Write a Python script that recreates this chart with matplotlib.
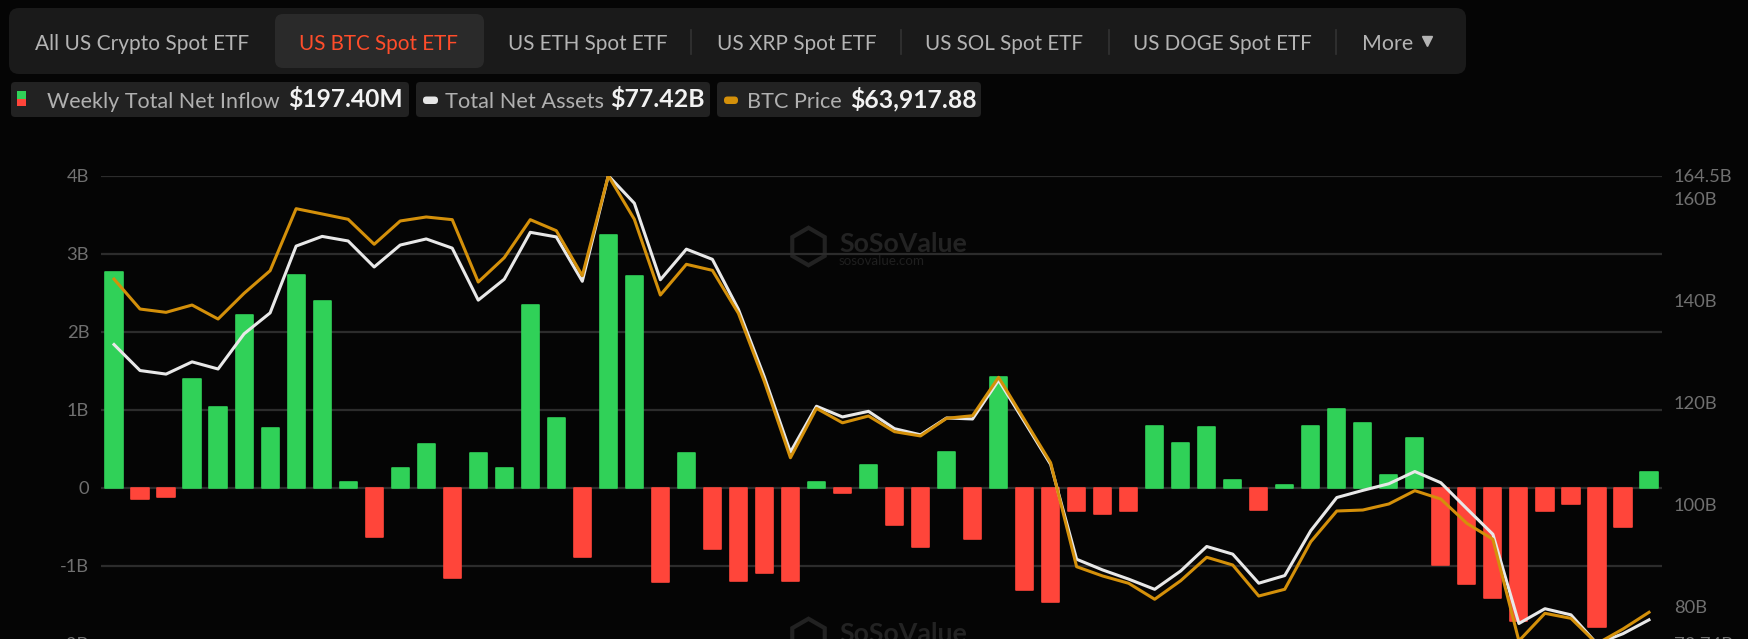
import matplotlib
matplotlib.use("Agg")
import matplotlib.pyplot as plt
import numpy as np
from matplotlib.patches import FancyBboxPatch, Rectangle
from matplotlib.lines import Line2D
from matplotlib.transforms import IdentityTransform

# ---------------- data ----------------
weekly_net_inflow_b = [2.76, -0.145, -0.115, 1.40, 1.03, 2.22, 0.77, 2.73, 2.39, 0.077,
                       -0.63, 0.25, 0.556, -1.154, 0.444, 0.252, 2.346, 0.893, -0.885, 3.244,
                       2.718, -1.214, 0.449, -0.782, -1.20, -1.098, -1.197, 0.077, -0.073, 0.29,
                       -0.479, -0.765, 0.46, -0.662, 1.42, -1.31, -1.47, -0.30, -0.34, -0.30,
                       0.795, 0.577, 0.774, 0.098, -0.282, 0.03, 0.795, 1.004, 0.829, 0.162,
                       0.632, -0.99, -1.24, -1.41, -1.71, -0.30, -0.21, -1.78, -0.51, 0.1974]
total_net_assets_b = [131.4, 126.3, 125.6, 128.0, 126.6, 133.5, 137.6, 150.7, 152.6, 151.7,
                      146.6, 150.9, 152.1, 150.3, 140.1, 144.2, 153.4, 152.5, 143.8, 164.5,
                      159.1, 144.1, 150.1, 148.1, 138.3, 125.0, 110.3, 119.3, 117.2, 118.3,
                      114.9, 113.7, 117.0, 116.8, 124.4, 116.2, 107.9, 89.3, 87.2, 85.4,
                      83.4, 87.0, 91.8, 90.3, 84.6, 86.1, 94.9, 101.4, 102.8, 104.1,
                      106.5, 104.3, 99.2, 94.2, 76.7, 79.6, 78.4, 72.74, 74.7, 77.42]
btc_price = [111300, 107040, 106570, 107610, 105620, 109280, 112490, 121310, 120560, 119800,
             116250, 119560, 120130, 119750, 110880, 114340, 119750, 118180, 111780, 126000,
             119800, 109030, 113400, 112540, 106430, 96710, 85890, 92920, 90860, 91830,
             89600, 88990, 91500, 91870, 97330, 91260, 85190, 70400, 69080, 68040,
             65770, 68410, 71740, 70640, 66230, 67190, 73950, 78320, 78460, 79320,
             81210, 80020, 76560, 74300, 59850, 63770, 63060, 59450, 61540, 63917.88]

left_ticks = [-2, -1, 0, 1, 2, 3, 4]
left_tick_labels = ["-2B", "-1B", "0", "1B", "2B", "3B", "4B"]
right_ticks_mid = [80, 100, 120, 140, 160]

tabs = ["All US Crypto Spot ETF", "US BTC Spot ETF", "US ETH Spot ETF", "US XRP Spot ETF",
        "US SOL Spot ETF", "US DOGE Spot ETF", "More"]
legend_labels = ["Weekly Total Net Inflow", "Total Net Assets", "BTC Price"]
legend_values = ["$197.40M", "$77.42B", "$63,917.88"]

# ---------------- style ----------------
W, H = 1748, 639
BG = "#050505"
GREEN = "#30d158"
RED = "#ff453a"
ORANGE = "#d4900a"
WHITE_LINE = "#e8e8e8"
GRID = "#2c2c2c"
TICK = "#707070"
FONT = "Lato"

plt.rcParams["font.family"] = [FONT, "DejaVu Sans"]

fig = plt.figure(figsize=(W / 100, H / 100), dpi=100, facecolor=BG)
renderer = fig.canvas.get_renderer()
ID = IdentityTransform()


def rbox(x0, y0, x1, y1, fc, r, z=0):
    p = FancyBboxPatch((x0, H - y1), x1 - x0, y1 - y0,
                       boxstyle=f"round,pad=0,rounding_size={r}",
                       fc=fc, ec="none", transform=ID, zorder=z)
    fig.add_artist(p)
    return p


def fit_text(x0, x1, baseline, s, color, weight="normal", base=14, z=3, style="normal"):
    t = fig.text(x0 / W, 1 - baseline / H, s, color=color, fontsize=base,
                 fontweight=weight, ha="left", va="baseline", zorder=z, style=style)
    w = t.get_window_extent(renderer).width
    t.set_fontsize(base * (x1 - x0) / w)
    return t


# ---------------- header tabs ----------------
rbox(9, 8, 1466, 74, "#1a1a1a", 10)
rbox(275, 14, 484, 68, "#2a2a2a", 8, z=1)
tab_spans = [(35, 250), (299, 458), (508, 668), (717, 877), (925, 1084), (1133, 1313), (1362, 1413)]
for i, (name, (a, b)) in enumerate(zip(tabs, tab_spans)):
    fit_text(a, b, 49.5, name, "#ff4d2a" if i == 1 else "#b4b4b4", base=15)
for sx in [691, 901, 1109, 1336]:
    fig.add_artist(Line2D([sx, sx], [H - 30, H - 54], color="#333333", lw=1.2, transform=ID))
fig.add_artist(Line2D([1427], [H - 41], marker="v", markersize=7, color="#b4b4b4",
                      lw=0, transform=ID))

# ---------------- legend boxes ----------------
boxes = [(11, 409), (416, 710), (717, 981)]
label_spans = [(47, 280), (445, 603), (747, 842)]
value_spans = [(288, 403), (610, 705), (850, 977)]
for (a, b), lab, val, (la, lb), (va, vb) in zip(boxes, legend_labels, legend_values,
                                                  label_spans, value_spans):
    rbox(a, 82, b, 117, "#222222", 4)
    fit_text(la, lb, 107.5, lab, "#b0b0b0", base=14)
    fit_text(va, vb, 107.5, val, "#f2f2f2", weight="bold", base=14)
fig.add_artist(Rectangle((17, H - 98.5), 9, 7.5, fc=GREEN, ec="none", transform=ID))
fig.add_artist(Rectangle((17, H - 106), 9, 7.5, fc=RED, ec="none", transform=ID))
rbox(423, 96.5, 438, 104, "#e6e6e6", 3.5, z=2)
rbox(724, 96.5, 738, 104, ORANGE, 3.5, z=2)

# ---------------- watermarks ----------------
for yc, base_y in [(246, 252), (637, 642)]:
    fig.add_artist(Line2D([808], [H - yc], marker="h", markersize=27, markerfacecolor="none",
                          markeredgecolor="#222222", markeredgewidth=3, lw=0,
                          transform=ID, zorder=-2))
    fit_text(839, 967, base_y, "SoSoValue", "#232323", weight="bold", base=20, z=-2)
    fit_text(839, 925, base_y + 13, "sosovalue.com", "#1f1f1f", base=10, z=-2)

# ---------------- chart ----------------
top_px, bot_px = 175.7, 643.7
ax = fig.add_axes([101 / W, (H - bot_px) / H, (1662 - 101) / W, (bot_px - top_px) / H])
ax.set_facecolor("none")

inflow = np.array(weekly_net_inflow_b)
tna = np.array(total_net_assets_b)
price = np.array(btc_price)
x = np.arange(len(inflow))

bar_colors = [GREEN if v >= 0 else RED for v in inflow]
ax.bar(x, inflow, width=0.66, color=bar_colors, edgecolor=bar_colors, linewidth=1.2,
       joinstyle="round", zorder=3)
ax.set_xlim(-0.5, len(x) - 0.5)
ax.set_ylim(-2, 4)
ax.set_yticks(left_ticks)
ax.set_yticklabels(left_tick_labels)
ax.set_xticks([])
ax.grid(axis="y", color=GRID, lw=1.6, zorder=0)
ax.set_axisbelow(True)
ax.tick_params(axis="y", length=0, pad=8.5, labelsize=13.2, labelcolor=TICK)
for sp in ax.spines.values():
    sp.set_visible(False)

ax2 = ax.twinx()
ax2.set_facecolor("none")
ax2.plot(x, tna, color=WHITE_LINE, lw=2.2, solid_joinstyle="round", zorder=4)
ax2.set_ylim(tna.min(), tna.max())
rt = [tna.min()] + right_ticks_mid + [tna.max()]
ax2.set_yticks(rt)
ax2.set_yticklabels([f"{v:g}B" for v in rt])
ax2.tick_params(axis="y", length=0, pad=8.5, labelsize=13.2, labelcolor=TICK)
for sp in ax2.spines.values():
    sp.set_visible(False)

ax3 = ax.twinx()
ax3.plot(x, price, color=ORANGE, lw=2.2, solid_joinstyle="round", zorder=5)
ax3.set_ylim(price.min(), price.max())
ax3.set_axis_off()

fig.savefig("out.png", dpi=100, facecolor=BG)
